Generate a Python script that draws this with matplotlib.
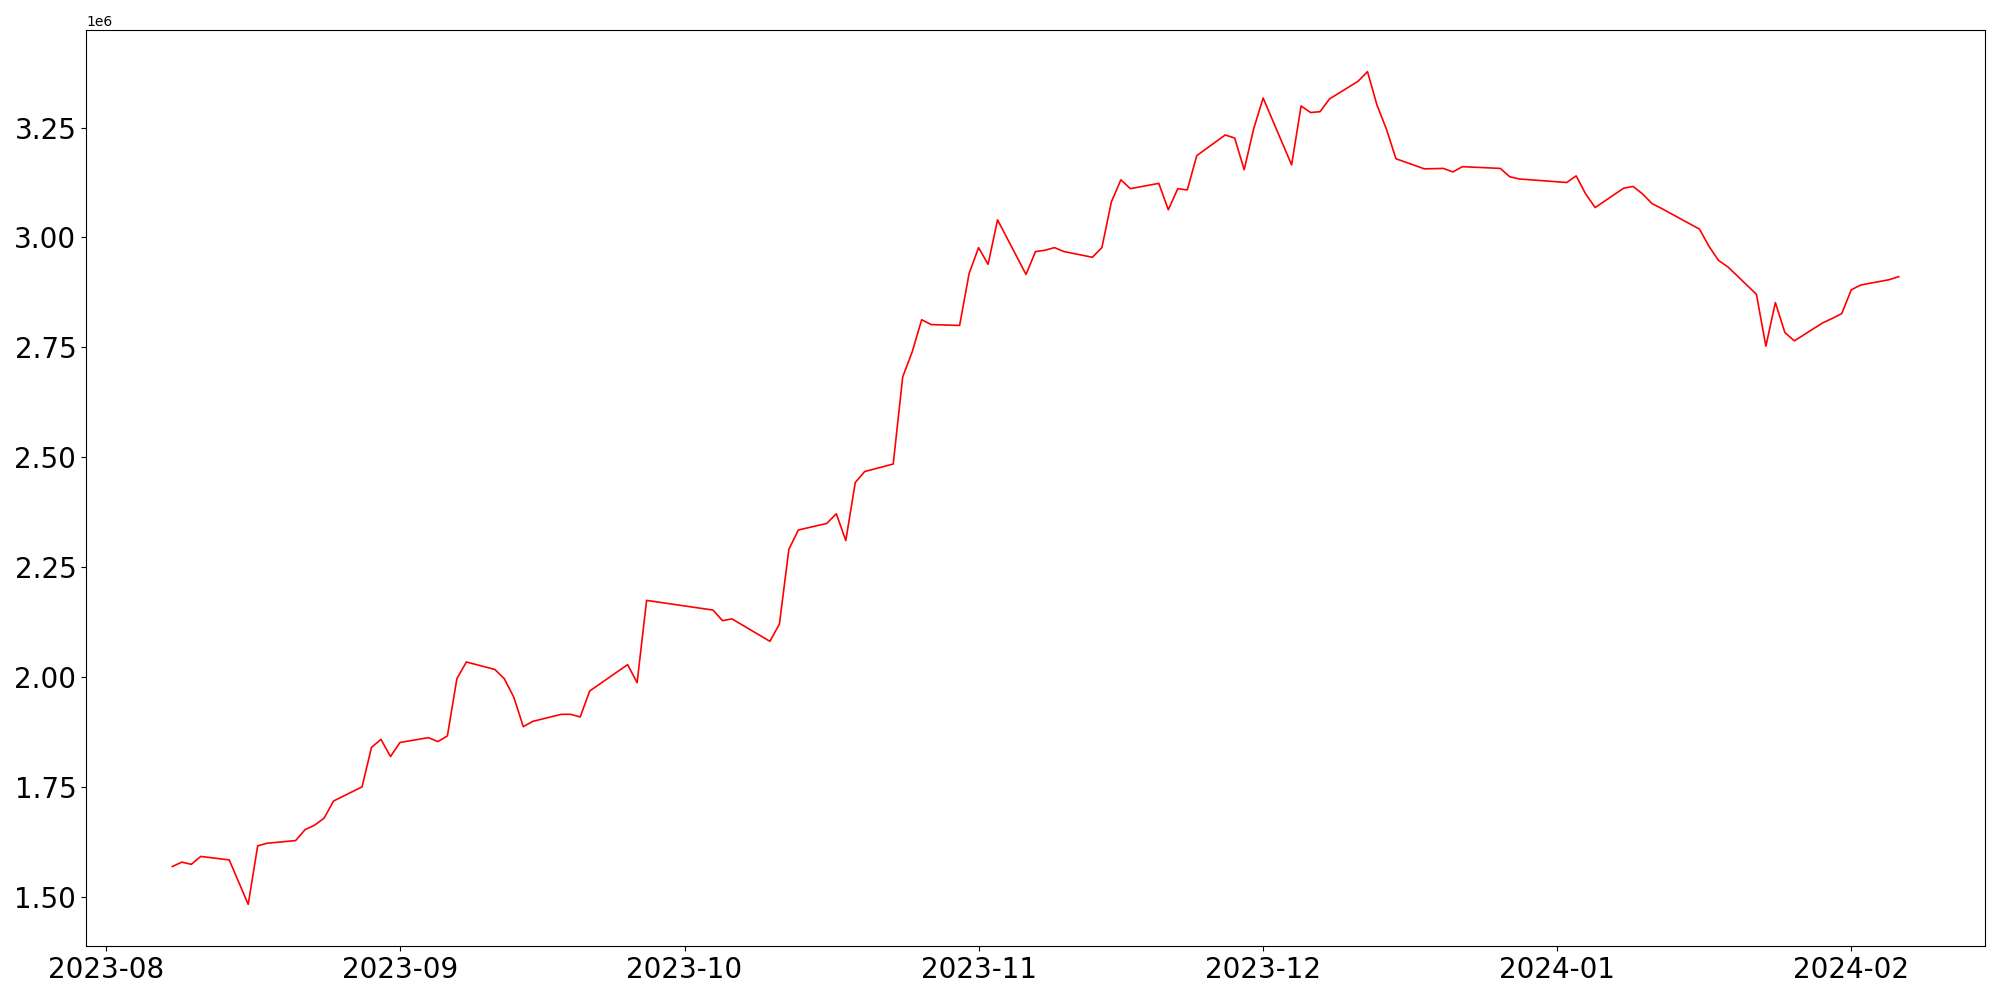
import matplotlib
matplotlib.use("Agg")
import matplotlib.pyplot as plt
import pandas as pd

aug = ["2023-08-%02d" % d for d in [8, 9, 10, 11, 14, 16, 17, 18, 21, 22, 23, 24, 25, 28, 29, 30, 31]]
sep = ["2023-09-%02d" % d for d in [1, 4, 5, 6, 7, 8, 11, 12, 13, 14, 15, 18, 19, 20, 21, 25, 26, 27]]
oct_ = ["2023-10-%02d" % d for d in [4, 5, 6, 10, 11, 12, 13, 16, 17, 18, 19, 20, 23, 24, 25, 26, 27, 30, 31]]
nov = ["2023-11-%02d" % d for d in [1, 2, 3, 6, 7, 8, 9, 10, 13, 14, 15, 16, 17, 20, 21, 22, 23, 24, 27, 28, 29, 30]]
dec = ["2023-12-%02d" % d for d in [1, 4, 5, 6, 7, 8, 11, 12, 13, 14, 15, 18, 20, 21, 22, 26, 27, 28]]
jan = ["2024-01-%02d" % d for d in [2, 3, 4, 5, 8, 9, 10, 11, 12, 16, 17, 18, 19, 22, 23, 24, 25, 26, 29, 30, 31]]
feb = ["2024-02-%02d" % d for d in [1, 2, 5, 6]]
dates = aug + sep + oct_ + nov + dec + jan + feb

values_millions = [
    1.570, 1.580, 1.575, 1.593, 1.585, 1.484, 1.617, 1.623, 1.629, 1.654, 1.664, 1.680, 1.719, 1.751, 1.841, 1.859, 1.820,
    1.852, 1.863, 1.854, 1.867, 1.997, 2.035, 2.018, 1.997, 1.955, 1.888, 1.900, 1.916, 1.916, 1.910, 1.969, 2.029, 1.988, 2.175,
    2.153, 2.129, 2.133, 2.082, 2.121, 2.291, 2.335, 2.350, 2.372, 2.311, 2.443, 2.468, 2.485, 2.683, 2.740, 2.813, 2.802, 2.800, 2.918,
    2.977, 2.939, 3.040, 2.916, 2.968, 2.971, 2.977, 2.968, 2.955, 2.977, 3.081, 3.131, 3.111, 3.123, 3.063, 3.111, 3.108, 3.186, 3.233, 3.226, 3.154, 3.247,
    3.317, 3.165, 3.299, 3.284, 3.286, 3.315, 3.355, 3.377, 3.301, 3.246, 3.179, 3.156, 3.157, 3.149, 3.161, 3.157, 3.138, 3.133,
    3.125, 3.140, 3.099, 3.068, 3.112, 3.116, 3.099, 3.077, 3.066, 3.019, 2.980, 2.948, 2.933, 2.871, 2.753, 2.852, 2.784, 2.765, 2.806, 2.816, 2.827,
    2.881, 2.892, 2.904, 2.911,
]

x = pd.to_datetime(dates)
y = [v * 1e6 for v in values_millions]

fig = plt.figure(figsize=(20, 10), dpi=100)
ax = fig.add_axes([0.043, 0.054, 0.9495, 0.916])
ax.plot(x, y, color="red", linewidth=1.2)
ax.tick_params(axis="both", labelsize=20)
fig.savefig("out.png", dpi=100)
